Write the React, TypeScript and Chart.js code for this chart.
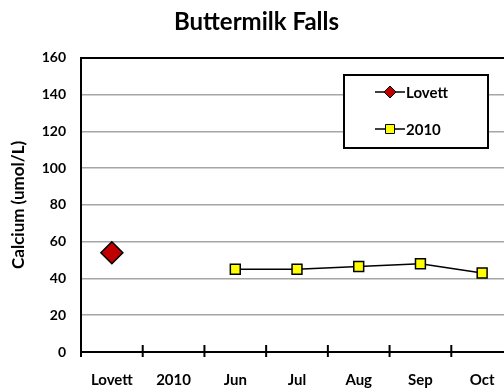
import React, { useEffect, useRef } from "react";
import { Chart, registerables } from "chart.js";

Chart.register(...registerables);

// Sampling sites / months along the x axis
const categories = ["Lovett", "2010", "Jun", "Jul", "Aug", "Sep", "Oct"];
// Historic Lovett calcium value (umol/L)
const lovettValues = [54, null, null, null, null, null, null];
// 2010 monthly calcium values (umol/L)
const values2010 = [null, null, 45, 45, 46.5, 48, 43];
const yTicks = [0, 20, 40, 60, 80, 100, 120, 140, 160];

const FONT = "Lato, 'Open Sans', sans-serif";

// Short tick marks crossing the x axis at category boundaries
const crossTicks = {
  id: "crossTicks",
  afterDatasetsDraw(chart: any) {
    const x = chart.scales.x;
    const y0 = chart.chartArea.bottom;
    const ctx = chart.ctx;
    const n = categories.length;
    const half = (x.getPixelForValue(1) - x.getPixelForValue(0)) / 2;
    ctx.save();
    ctx.strokeStyle = "#000";
    ctx.lineWidth = 2;
    for (let i = 0; i < n; i++) {
      const px = x.getPixelForValue(i) + half;
      ctx.beginPath();
      ctx.moveTo(px, y0 - 7);
      ctx.lineTo(px, y0 + 5);
      ctx.stroke();
    }
    // y axis runs slightly below the x axis
    ctx.beginPath();
    ctx.moveTo(chart.chartArea.left, y0);
    ctx.lineTo(chart.chartArea.left, y0 + 5);
    ctx.stroke();
    ctx.restore();
  },
};

// Boxed legend drawn inside the plot area
const boxLegend = {
  id: "boxLegend",
  afterDraw(chart: any) {
    const ctx = chart.ctx;
    const bx = 344, by = 75, bw = 144, bh = 73;
    ctx.save();
    ctx.fillStyle = "#fff";
    ctx.fillRect(bx, by, bw, bh);
    ctx.strokeStyle = "#000";
    ctx.lineWidth = 2;
    ctx.strokeRect(bx, by, bw, bh);
    const rows = [by + 17, by + 54];
    chart.data.datasets.forEach((ds: any, i: number) => {
      const cy = rows[i];
      const cx = 390;
      ctx.strokeStyle = "#000";
      ctx.lineWidth = 1.5;
      ctx.beginPath();
      ctx.moveTo(375, cy);
      ctx.lineTo(405, cy);
      ctx.stroke();
      ctx.fillStyle = ds.pointBackgroundColor;
      ctx.lineWidth = 1;
      ctx.beginPath();
      if (ds.pointStyle === "rectRot") {
        const r = 6;
        ctx.moveTo(cx, cy - r);
        ctx.lineTo(cx + r, cy);
        ctx.lineTo(cx, cy + r);
        ctx.lineTo(cx - r, cy);
        ctx.closePath();
      } else {
        ctx.rect(cx - 4.5, cy - 4.5, 9, 9);
      }
      ctx.fill();
      ctx.stroke();
      ctx.fillStyle = "#000";
      ctx.font = `bold 15px ${FONT}`;
      ctx.textAlign = "left";
      ctx.textBaseline = "middle";
      ctx.fillText(ds.label, 406, cy + 1);
    });
    ctx.restore();
  },
};

export default function App() {
  const ref = useRef<HTMLCanvasElement | null>(null);

  useEffect(() => {
    if (!ref.current) return;
    const chart = new Chart(ref.current, {
      type: "line",
      data: {
        labels: categories,
        datasets: [
          {
            label: "Lovett",
            data: lovettValues,
            borderColor: "#000",
            borderWidth: 1.5,
            pointStyle: "rectRot",
            pointRadius: 11,
            pointBackgroundColor: "#c00000",
            pointBorderColor: "#000",
            pointBorderWidth: 1.5,
            showLine: false,
          },
          {
            label: "2010",
            data: values2010,
            borderColor: "#000",
            borderWidth: 1.5,
            pointStyle: "rect",
            pointRadius: 7,
            pointBackgroundColor: "#ffff00",
            pointBorderColor: "#000",
            pointBorderWidth: 1.5,
            tension: 0,
          },
        ],
      },
      options: {
        responsive: false,
        animation: false,
        layout: { padding: { left: 0, right: 71, top: 0, bottom: 0 } },
        plugins: {
          legend: { display: false },
          tooltip: { enabled: false },
          title: {
            display: true,
            text: "Buttermilk Falls",
            color: "#000",
            font: { family: FONT, size: 24, weight: "bold" },
            padding: { top: 8, bottom: 21 },
          },
        },
        scales: {
          x: {
            type: "category",
            offset: true,
            grid: { display: false },
            border: { display: true, color: "#000", width: 2 },
            ticks: {
              color: "#000",
              font: { family: FONT, size: 15, weight: "bold" },
              padding: 11,
              maxRotation: 0,
              autoSkip: false,
            },
            afterFit(scale: any) {
              scale.height = 40;
            },
          },
          y: {
            min: 0,
            max: 160,
            afterBuildTicks(scale: any) {
              scale.ticks = yTicks.map((v) => ({ value: v }));
            },
            grid: {
              drawTicks: false,
              color: (c: any) => (c.tick && c.tick.value === 160 ? "#000" : "#a6a6a6"),
              lineWidth: (c: any) => (c.tick && c.tick.value === 160 ? 2 : 1.5),
            },
            border: { display: true, color: "#000", width: 2 },
            ticks: {
              color: "#000",
              font: { family: FONT, size: 14, weight: "bold" },
              padding: 15,
            },
            title: {
              display: true,
              text: "Calcium (umol/L)",
              color: "#000",
              font: { family: FONT, size: 17, weight: "bold" },
              padding: { top: 8, bottom: 0 },
            },
            afterFit(scale: any) {
              scale.width = 81;
            },
          },
        },
      },
      plugins: [crossTicks, boxLegend],
    });
    return () => chart.destroy();
  }, []);

  return (
    <div
      style={{
        position: "fixed",
        left: 0,
        top: 0,
        width: 504,
        height: 392,
        overflow: "hidden",
        background: "#fff",
      }}
    >
      <canvas ref={ref} width={584} height={392} style={{ width: 584, height: 392 }} />
    </div>
  );
}
